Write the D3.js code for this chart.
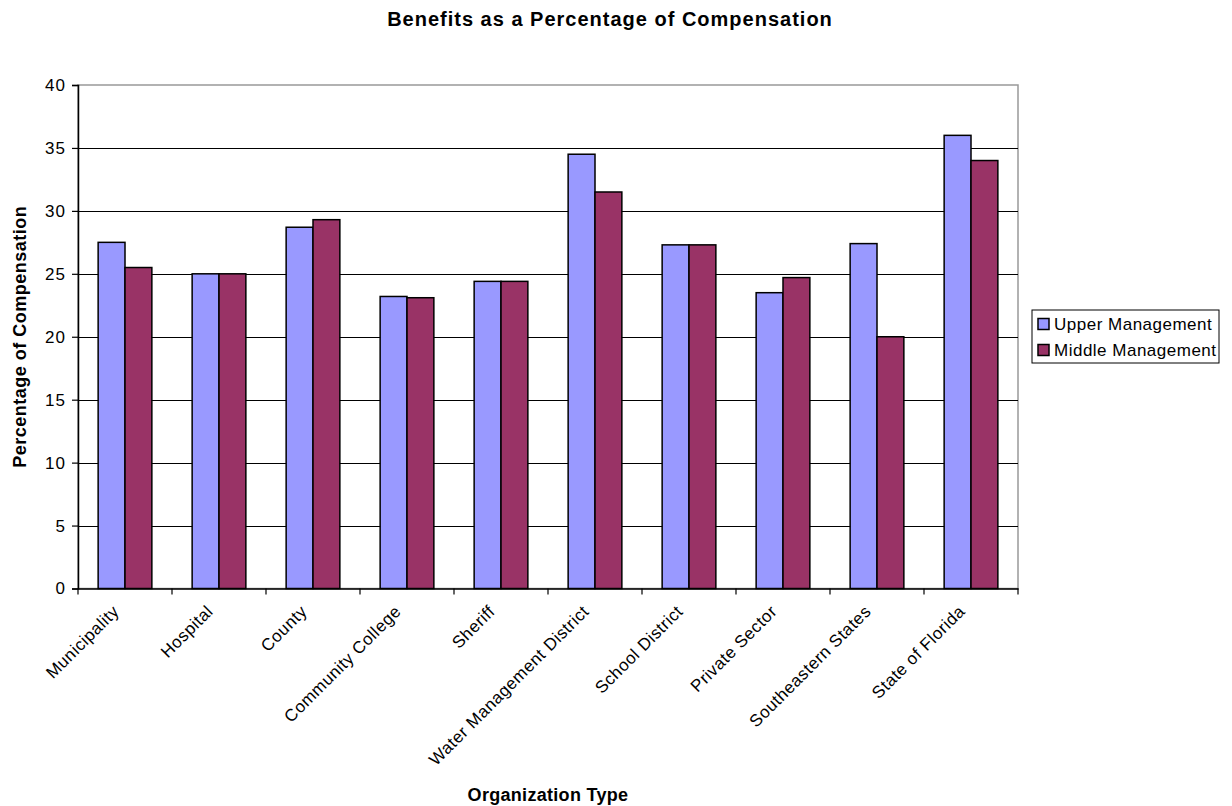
<!DOCTYPE html>
<html>
<head>
<meta charset="utf-8">
<script src="https://cdn.jsdelivr.net/npm/d3@7"></script>
<style>
  body { margin: 0; background: #fff; }
  svg { font-family: "Liberation Sans", Arial, sans-serif; }
</style>
</head>
<body>
<svg id="chart" width="1232" height="806"></svg>
<script>
const categories = ["Municipality", "Hospital", "County", "Community College", "Sheriff",
  "Water Management District", "School District", "Private Sector", "Southeastern States", "State of Florida"];
const upper = [27.5, 25.0, 28.7, 23.2, 24.4, 34.5, 27.3, 23.5, 27.4, 36.0];
const middle = [25.5, 25.0, 29.3, 23.1, 24.4, 31.5, 27.3, 24.7, 20.0, 34.0];
const seriesNames = ["Upper Management", "Middle Management"];
const seriesColors = ["#9999ff", "#993366"];
const yTicks = [0, 5, 10, 15, 20, 25, 30, 35, 40];

const svg = d3.select("#chart");
const margin = { left: 78, right: 214, top: 85, bottom: 217.5 };
const width = 1232, height = 806;
const plotW = width - margin.left - margin.right;
const plotH = height - margin.top - margin.bottom;

const x = d3.scaleBand().domain(categories).range([margin.left, margin.left + plotW]);
const y = d3.scaleLinear().domain([0, 40]).range([margin.top + plotH, margin.top]);
const barW = x.bandwidth() / 3.5;

// plot border (grey top/right)
svg.append("rect")
  .attr("x", margin.left).attr("y", margin.top)
  .attr("width", plotW).attr("height", plotH)
  .attr("fill", "none").attr("stroke", "#999").attr("stroke-width", 1.5);

// gridlines
svg.append("g")
  .selectAll("line")
  .data(yTicks.filter((d) => d > 0 && d < 40))
  .join("line")
  .attr("x1", margin.left).attr("x2", margin.left + plotW)
  .attr("y1", (d) => Math.round(y(d)) + 0.5).attr("y2", (d) => Math.round(y(d)) + 0.5)
  .attr("stroke", "#000").attr("stroke-width", 1);

// bars
const data = categories.map((c, i) => ({ cat: c, vals: [upper[i], middle[i]] }));
svg.append("g")
  .selectAll("g")
  .data(data)
  .join("g")
  .selectAll("rect")
  .data((d) => d.vals.map((v, j) => ({ cat: d.cat, v, j })))
  .join("rect")
  .attr("x", (d) => x(d.cat) + barW * 0.75 + d.j * barW)
  .attr("y", (d) => y(d.v))
  .attr("width", barW)
  .attr("height", (d) => y(0) - y(d.v))
  .attr("fill", (d) => seriesColors[d.j])
  .attr("stroke", "#000").attr("stroke-width", 1.5);

// y axis
const yAxis = d3.axisLeft(y).tickValues(yTicks).tickSize(6).tickPadding(6);
svg.append("g")
  .attr("transform", `translate(${margin.left},0)`)
  .call(yAxis)
  .call((g) => {
    g.select(".domain").attr("stroke", "#000").attr("stroke-width", 1.5);
    g.selectAll(".tick line").attr("stroke-width", 1.2);
    g.selectAll(".tick text")
      .attr("font-size", 17).attr("letter-spacing", 1)
      .attr("font-family", "Liberation Sans, Arial, sans-serif")
      .attr("fill", "#000");
  });

// x axis
const xAxis = d3.axisBottom(x).tickSize(0).tickFormat("");
svg.append("g")
  .attr("transform", `translate(0,${y(0)})`)
  .call(xAxis)
  .call((g) => {
    g.select(".domain").attr("stroke", "#000").attr("stroke-width", 1.5);
  });

// category boundary ticks
const bounds = categories.map((c) => x(c)).concat([margin.left + plotW]);
svg.append("g")
  .selectAll("line")
  .data(bounds)
  .join("line")
  .attr("x1", (d) => d).attr("x2", (d) => d)
  .attr("y1", y(0)).attr("y2", y(0) + 6)
  .attr("stroke", "#000").attr("stroke-width", 1.2);

// category labels rotated
svg.append("g")
  .selectAll("text")
  .data(categories)
  .join("text")
  .attr("transform", (d) => `translate(${x(d) + x.bandwidth() / 2 - 5},${y(0) + 24}) rotate(-45)`)
  .attr("text-anchor", "end")
  .attr("font-size", 17).attr("letter-spacing", 0.5)
  .text((d) => d);

// titles
svg.append("text")
  .attr("x", 610).attr("y", 26)
  .attr("text-anchor", "middle")
  .attr("font-size", 20).attr("letter-spacing", 1).attr("font-weight", "bold")
  .text("Benefits as a Percentage of Compensation");

svg.append("text")
  .attr("x", 548).attr("y", 801)
  .attr("text-anchor", "middle")
  .attr("font-size", 18).attr("letter-spacing", 0.3).attr("font-weight", "bold")
  .text("Organization Type");

svg.append("text")
  .attr("transform", `translate(26,${margin.top + plotH / 2}) rotate(-90)`)
  .attr("text-anchor", "middle")
  .attr("font-size", 18).attr("letter-spacing", 0.5).attr("font-weight", "bold")
  .text("Percentage of Compensation");

// legend
const legend = svg.append("g").attr("transform", "translate(1032,310)");
legend.append("rect")
  .attr("width", 187).attr("height", 53)
  .attr("fill", "#fff").attr("stroke", "#000").attr("stroke-width", 1);
const items = legend.selectAll("g")
  .data(seriesNames)
  .join("g")
  .attr("transform", (d, i) => `translate(6,${14 + i * 26})`);
items.append("rect")
  .attr("x", 0).attr("y", -5.5).attr("width", 11).attr("height", 11)
  .attr("fill", (d, i) => seriesColors[i])
  .attr("stroke", "#000").attr("stroke-width", 1.5);
items.append("text")
  .attr("x", 16).attr("y", 6)
  .attr("font-size", 17).attr("letter-spacing", 0.5)
  .text((d) => d);
</script>
</body>
</html>
